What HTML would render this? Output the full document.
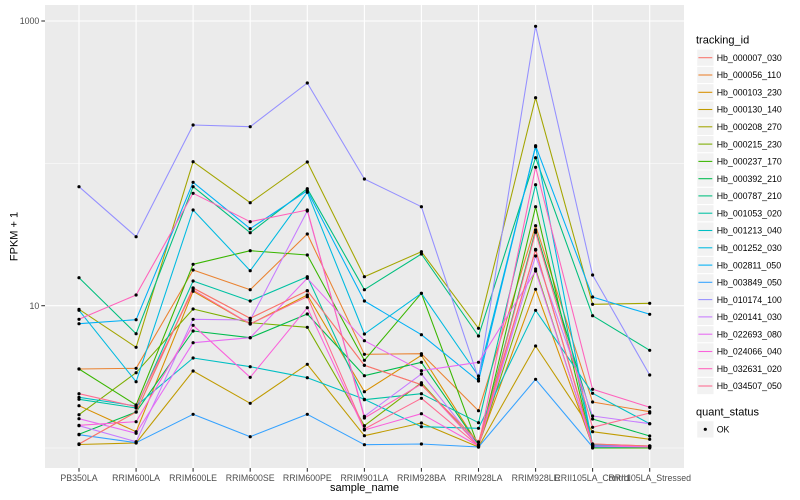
<!DOCTYPE html>
<html><head><meta charset="utf-8"><style>
html,body{margin:0;padding:0;background:#fff;}
svg{display:block;font-family:"Liberation Sans",Arial,sans-serif;}
</style></head><body>
<svg width="800" height="500" viewBox="0 0 800 500" xmlns="http://www.w3.org/2000/svg">
<defs>
<marker id="pt" viewBox="-2 -2 4 4" markerWidth="4" markerHeight="4" markerUnits="userSpaceOnUse" refX="0" refY="0"><circle cx="0" cy="0" r="1.6" fill="#000"/></marker>
</defs>
<rect x="0" y="0" width="800" height="500" fill="#fff"/>
<rect x="45" y="5" width="639" height="463" fill="#EBEBEB"/>
<!-- minor grid -->
<g stroke="#fff" stroke-width="0.55">
<line x1="45" x2="684" y1="163.4" y2="163.4"/>
<line x1="45" x2="684" y1="448" y2="448"/>
</g>
<!-- major grid -->
<g stroke="#fff" stroke-width="1.07">
<line x1="45" x2="684" y1="21" y2="21"/>
<line x1="45" x2="684" y1="305.7" y2="305.7"/>
<line x1="79" x2="79" y1="5" y2="468"/>
<line x1="136.1" x2="136.1" y1="5" y2="468"/>
<line x1="193.1" x2="193.1" y1="5" y2="468"/>
<line x1="250.2" x2="250.2" y1="5" y2="468"/>
<line x1="307.3" x2="307.3" y1="5" y2="468"/>
<line x1="364.4" x2="364.4" y1="5" y2="468"/>
<line x1="421.4" x2="421.4" y1="5" y2="468"/>
<line x1="478.5" x2="478.5" y1="5" y2="468"/>
<line x1="535.6" x2="535.6" y1="5" y2="468"/>
<line x1="592.6" x2="592.6" y1="5" y2="468"/>
<line x1="649.7" x2="649.7" y1="5" y2="468"/>
</g>
<!-- series -->
<g fill="none" stroke-width="1.07" stroke-linejoin="round">
<polyline id="s0" stroke="#F8766D" points="79,444 136.1,412 193.1,288 250.2,318.3 307.3,290.7 364.4,365.3 421.4,384.7 478.5,442 535.6,250 592.6,444 649.7,446"/>
<polyline id="s1" stroke="#EA8331" points="79,369 136.1,368.3 193.1,270 250.2,289.7 307.3,234 364.4,354.3 421.4,353.7 478.5,410.7 535.6,225.7 592.6,402 649.7,411.7"/>
<polyline id="s2" stroke="#D89000" points="79,405.7 136.1,431.7 193.1,291.3 250.2,324 307.3,295 364.4,391.7 421.4,355.3 478.5,445 535.6,289.3 592.6,446 649.7,447"/>
<polyline id="s3" stroke="#C09B00" points="79,444.5 136.1,443 193.1,371 250.2,403.3 307.3,364.3 364.4,435.7 421.4,423 478.5,447 535.6,346 592.6,431.7 649.7,439.3"/>
<polyline id="s4" stroke="#A3A500" points="79,309.3 136.1,347.3 193.1,161.7 250.2,202.7 307.3,162 364.4,276.7 421.4,251.7 478.5,328.3 535.6,97.7 592.6,304.3 649.7,303.3"/>
<polyline id="s5" stroke="#7CAE00" points="79,414.7 136.1,372.7 193.1,309 250.2,322.7 307.3,327.3 364.4,425.7 421.4,382.7 478.5,446 535.6,269 592.6,447 649.7,446"/>
<polyline id="s6" stroke="#39B600" points="79,369 136.1,405 193.1,264.3 250.2,250.7 307.3,255 364.4,360.3 421.4,293.3 478.5,447 535.6,206.7 592.6,448 649.7,448"/>
<polyline id="s7" stroke="#00BB4E" points="79,434.3 136.1,412 193.1,331 250.2,337.7 307.3,314 364.4,375.7 421.4,362.3 478.5,445 535.6,230 592.6,419 649.7,436"/>
<polyline id="s8" stroke="#00BF7D" points="79,277.7 136.1,333.7 193.1,186.7 250.2,232.7 307.3,188.7 364.4,289.7 421.4,254 478.5,336 535.6,157.7 592.6,315.7 649.7,350.3"/>
<polyline id="s9" stroke="#00C1A3" points="79,399.3 136.1,408 193.1,281 250.2,301 307.3,276.7 364.4,399.7 421.4,393.7 478.5,422.7 535.6,184.7 592.6,445 649.7,447"/>
<polyline id="s10" stroke="#00BFC4" points="79,397.3 136.1,406 193.1,358 250.2,366.7 307.3,377.7 364.4,399.3 421.4,426.7 478.5,428.3 535.6,310.3 592.6,393.3 649.7,423.7"/>
<polyline id="s11" stroke="#00BAE0" points="79,310.3 136.1,381.7 193.1,210 250.2,270.7 307.3,192.3 364.4,334 421.4,293.3 478.5,376 535.6,146.7 592.6,445 649.7,446"/>
<polyline id="s12" stroke="#00B0F6" points="79,323.7 136.1,319.7 193.1,182.3 250.2,228.7 307.3,190.7 364.4,301 421.4,334.7 478.5,381 535.6,145.7 592.6,297 649.7,314.3"/>
<polyline id="s13" stroke="#35A2FF" points="79,434.7 136.1,442.7 193.1,414.3 250.2,436.7 307.3,414.3 364.4,444.7 421.4,444 478.5,447 535.6,379.3 592.6,447 649.7,447"/>
<polyline id="s14" stroke="#9590FF" points="79,186.7 136.1,236.7 193.1,125 250.2,126.7 307.3,83 364.4,179 421.4,206.7 478.5,378.7 535.6,26.3 592.6,275 649.7,375"/>
<polyline id="s15" stroke="#C77CFF" points="79,425.7 136.1,441.7 193.1,319.3 250.2,320 307.3,211 364.4,416.3 421.4,374 478.5,446 535.6,256 592.6,416 649.7,423.7"/>
<polyline id="s16" stroke="#E76BF3" points="79,418.7 136.1,433.3 193.1,342.7 250.2,337.7 307.3,278.3 364.4,340.7 421.4,370.7 478.5,362.3 535.6,271 592.6,446 649.7,447"/>
<polyline id="s17" stroke="#FA62DB" points="79,425.3 136.1,421.7 193.1,325.3 250.2,377.3 307.3,307.7 364.4,430 421.4,413.7 478.5,446 535.6,249.3 592.6,446 649.7,446"/>
<polyline id="s18" stroke="#FF62BC" points="79,319.3 136.1,295 193.1,193.3 250.2,221.7 307.3,210 364.4,418 421.4,384 478.5,446 535.6,167.3 592.6,389.3 649.7,407.3"/>
<polyline id="s19" stroke="#FF6C91" points="79,393.7 136.1,406.7 193.1,290 250.2,324 307.3,296.7 364.4,429 421.4,398.3 478.5,446 535.6,232.3 592.6,427.3 649.7,413"/>
</g>
<!-- points -->
<g fill="none" stroke="none" marker-start="url(#pt)" marker-mid="url(#pt)" marker-end="url(#pt)">
<use href="#s0" stroke="none" style="stroke:none"/>
</g>
<g style="stroke:none" fill="none">
<polyline marker-start="url(#pt)" marker-mid="url(#pt)" marker-end="url(#pt)" points="79,444 136.1,412 193.1,288 250.2,318.3 307.3,290.7 364.4,365.3 421.4,384.7 478.5,442 535.6,250 592.6,444 649.7,446"/>
<polyline marker-start="url(#pt)" marker-mid="url(#pt)" marker-end="url(#pt)" points="79,369 136.1,368.3 193.1,270 250.2,289.7 307.3,234 364.4,354.3 421.4,353.7 478.5,410.7 535.6,225.7 592.6,402 649.7,411.7"/>
<polyline marker-start="url(#pt)" marker-mid="url(#pt)" marker-end="url(#pt)" points="79,405.7 136.1,431.7 193.1,291.3 250.2,324 307.3,295 364.4,391.7 421.4,355.3 478.5,445 535.6,289.3 592.6,446 649.7,447"/>
<polyline marker-start="url(#pt)" marker-mid="url(#pt)" marker-end="url(#pt)" points="79,444.5 136.1,443 193.1,371 250.2,403.3 307.3,364.3 364.4,435.7 421.4,423 478.5,447 535.6,346 592.6,431.7 649.7,439.3"/>
<polyline marker-start="url(#pt)" marker-mid="url(#pt)" marker-end="url(#pt)" points="79,309.3 136.1,347.3 193.1,161.7 250.2,202.7 307.3,162 364.4,276.7 421.4,251.7 478.5,328.3 535.6,97.7 592.6,304.3 649.7,303.3"/>
<polyline marker-start="url(#pt)" marker-mid="url(#pt)" marker-end="url(#pt)" points="79,414.7 136.1,372.7 193.1,309 250.2,322.7 307.3,327.3 364.4,425.7 421.4,382.7 478.5,446 535.6,269 592.6,447 649.7,446"/>
<polyline marker-start="url(#pt)" marker-mid="url(#pt)" marker-end="url(#pt)" points="79,369 136.1,405 193.1,264.3 250.2,250.7 307.3,255 364.4,360.3 421.4,293.3 478.5,447 535.6,206.7 592.6,448 649.7,448"/>
<polyline marker-start="url(#pt)" marker-mid="url(#pt)" marker-end="url(#pt)" points="79,434.3 136.1,412 193.1,331 250.2,337.7 307.3,314 364.4,375.7 421.4,362.3 478.5,445 535.6,230 592.6,419 649.7,436"/>
<polyline marker-start="url(#pt)" marker-mid="url(#pt)" marker-end="url(#pt)" points="79,277.7 136.1,333.7 193.1,186.7 250.2,232.7 307.3,188.7 364.4,289.7 421.4,254 478.5,336 535.6,157.7 592.6,315.7 649.7,350.3"/>
<polyline marker-start="url(#pt)" marker-mid="url(#pt)" marker-end="url(#pt)" points="79,399.3 136.1,408 193.1,281 250.2,301 307.3,276.7 364.4,399.7 421.4,393.7 478.5,422.7 535.6,184.7 592.6,445 649.7,447"/>
<polyline marker-start="url(#pt)" marker-mid="url(#pt)" marker-end="url(#pt)" points="79,397.3 136.1,406 193.1,358 250.2,366.7 307.3,377.7 364.4,399.3 421.4,426.7 478.5,428.3 535.6,310.3 592.6,393.3 649.7,423.7"/>
<polyline marker-start="url(#pt)" marker-mid="url(#pt)" marker-end="url(#pt)" points="79,310.3 136.1,381.7 193.1,210 250.2,270.7 307.3,192.3 364.4,334 421.4,293.3 478.5,376 535.6,146.7 592.6,445 649.7,446"/>
<polyline marker-start="url(#pt)" marker-mid="url(#pt)" marker-end="url(#pt)" points="79,323.7 136.1,319.7 193.1,182.3 250.2,228.7 307.3,190.7 364.4,301 421.4,334.7 478.5,381 535.6,145.7 592.6,297 649.7,314.3"/>
<polyline marker-start="url(#pt)" marker-mid="url(#pt)" marker-end="url(#pt)" points="79,434.7 136.1,442.7 193.1,414.3 250.2,436.7 307.3,414.3 364.4,444.7 421.4,444 478.5,447 535.6,379.3 592.6,447 649.7,447"/>
<polyline marker-start="url(#pt)" marker-mid="url(#pt)" marker-end="url(#pt)" points="79,186.7 136.1,236.7 193.1,125 250.2,126.7 307.3,83 364.4,179 421.4,206.7 478.5,378.7 535.6,26.3 592.6,275 649.7,375"/>
<polyline marker-start="url(#pt)" marker-mid="url(#pt)" marker-end="url(#pt)" points="79,425.7 136.1,441.7 193.1,319.3 250.2,320 307.3,211 364.4,416.3 421.4,374 478.5,446 535.6,256 592.6,416 649.7,423.7"/>
<polyline marker-start="url(#pt)" marker-mid="url(#pt)" marker-end="url(#pt)" points="79,418.7 136.1,433.3 193.1,342.7 250.2,337.7 307.3,278.3 364.4,340.7 421.4,370.7 478.5,362.3 535.6,271 592.6,446 649.7,447"/>
<polyline marker-start="url(#pt)" marker-mid="url(#pt)" marker-end="url(#pt)" points="79,425.3 136.1,421.7 193.1,325.3 250.2,377.3 307.3,307.7 364.4,430 421.4,413.7 478.5,446 535.6,249.3 592.6,446 649.7,446"/>
<polyline marker-start="url(#pt)" marker-mid="url(#pt)" marker-end="url(#pt)" points="79,319.3 136.1,295 193.1,193.3 250.2,221.7 307.3,210 364.4,418 421.4,384 478.5,446 535.6,167.3 592.6,389.3 649.7,407.3"/>
<polyline marker-start="url(#pt)" marker-mid="url(#pt)" marker-end="url(#pt)" points="79,393.7 136.1,406.7 193.1,290 250.2,324 307.3,296.7 364.4,429 421.4,398.3 478.5,446 535.6,232.3 592.6,427.3 649.7,413"/>
</g>
<!-- axes ticks -->
<g stroke="#333" stroke-width="1.07">
<line x1="41.3" x2="45" y1="21" y2="21"/>
<line x1="41.3" x2="45" y1="305.7" y2="305.7"/>
<line x1="79" x2="79" y1="468" y2="471.7"/>
<line x1="136.1" x2="136.1" y1="468" y2="471.7"/>
<line x1="193.1" x2="193.1" y1="468" y2="471.7"/>
<line x1="250.2" x2="250.2" y1="468" y2="471.7"/>
<line x1="307.3" x2="307.3" y1="468" y2="471.7"/>
<line x1="364.4" x2="364.4" y1="468" y2="471.7"/>
<line x1="421.4" x2="421.4" y1="468" y2="471.7"/>
<line x1="478.5" x2="478.5" y1="468" y2="471.7"/>
<line x1="535.6" x2="535.6" y1="468" y2="471.7"/>
<line x1="592.6" x2="592.6" y1="468" y2="471.7"/>
<line x1="649.7" x2="649.7" y1="468" y2="471.7"/>
</g>
<g fill="#4D4D4D" font-size="8.8">
<text x="39.3" y="24.2" text-anchor="end">1000</text>
<text x="39.3" y="308.9" text-anchor="end">10</text>
</g>
<g fill="#4D4D4D" font-size="8.8" text-anchor="middle">
<text x="79" y="481">PB350LA</text>
<text x="136.1" y="481">RRIM600LA</text>
<text x="193.1" y="481">RRIM600LE</text>
<text x="250.2" y="481">RRIM600SE</text>
<text x="307.3" y="481">RRIM600PE</text>
<text x="364.4" y="481">RRIM901LA</text>
<text x="421.4" y="481">RRIM928BA</text>
<text x="478.5" y="481">RRIM928LA</text>
<text x="535.6" y="481">RRIM928LE</text>
<text x="592.6" y="481">RRII105LA_Control</text>
<text x="649.7" y="481">RRII105LA_Stressed</text>
</g>
<text x="364.5" y="491" font-size="11" text-anchor="middle" fill="#000">sample_name</text>
<text transform="translate(17.5,236.5) rotate(-90)" font-size="11" text-anchor="middle" fill="#000">FPKM + 1</text>
<!-- legend -->
<text x="696" y="43.5" font-size="11" fill="#000">tracking_id</text>
<g stroke="#fff" stroke-width="1.07" fill="#F2F2F2">
<rect x="696.7" y="49.1" width="17.3" height="17.3"/>
<rect x="696.7" y="66.4" width="17.3" height="17.3"/>
<rect x="696.7" y="83.6" width="17.3" height="17.3"/>
<rect x="696.7" y="100.9" width="17.3" height="17.3"/>
<rect x="696.7" y="118.2" width="17.3" height="17.3"/>
<rect x="696.7" y="135.5" width="17.3" height="17.3"/>
<rect x="696.7" y="152.8" width="17.3" height="17.3"/>
<rect x="696.7" y="170.0" width="17.3" height="17.3"/>
<rect x="696.7" y="187.3" width="17.3" height="17.3"/>
<rect x="696.7" y="204.6" width="17.3" height="17.3"/>
<rect x="696.7" y="221.9" width="17.3" height="17.3"/>
<rect x="696.7" y="239.2" width="17.3" height="17.3"/>
<rect x="696.7" y="256.4" width="17.3" height="17.3"/>
<rect x="696.7" y="273.7" width="17.3" height="17.3"/>
<rect x="696.7" y="291.0" width="17.3" height="17.3"/>
<rect x="696.7" y="308.3" width="17.3" height="17.3"/>
<rect x="696.7" y="325.6" width="17.3" height="17.3"/>
<rect x="696.7" y="342.8" width="17.3" height="17.3"/>
<rect x="696.7" y="360.1" width="17.3" height="17.3"/>
<rect x="696.7" y="377.4" width="17.3" height="17.3"/>
<rect x="696.7" y="420.7" width="17.3" height="17.3"/>
</g>
<g stroke-width="1.07">
<line x1="698.4" x2="712.3" y1="57.7" y2="57.7" stroke="#F8766D"/>
<line x1="698.4" x2="712.3" y1="75.0" y2="75.0" stroke="#EA8331"/>
<line x1="698.4" x2="712.3" y1="92.3" y2="92.3" stroke="#D89000"/>
<line x1="698.4" x2="712.3" y1="109.5" y2="109.5" stroke="#C09B00"/>
<line x1="698.4" x2="712.3" y1="126.8" y2="126.8" stroke="#A3A500"/>
<line x1="698.4" x2="712.3" y1="144.1" y2="144.1" stroke="#7CAE00"/>
<line x1="698.4" x2="712.3" y1="161.4" y2="161.4" stroke="#39B600"/>
<line x1="698.4" x2="712.3" y1="178.7" y2="178.7" stroke="#00BB4E"/>
<line x1="698.4" x2="712.3" y1="195.9" y2="195.9" stroke="#00BF7D"/>
<line x1="698.4" x2="712.3" y1="213.2" y2="213.2" stroke="#00C1A3"/>
<line x1="698.4" x2="712.3" y1="230.5" y2="230.5" stroke="#00BFC4"/>
<line x1="698.4" x2="712.3" y1="247.8" y2="247.8" stroke="#00BAE0"/>
<line x1="698.4" x2="712.3" y1="265.1" y2="265.1" stroke="#00B0F6"/>
<line x1="698.4" x2="712.3" y1="282.3" y2="282.3" stroke="#35A2FF"/>
<line x1="698.4" x2="712.3" y1="299.6" y2="299.6" stroke="#9590FF"/>
<line x1="698.4" x2="712.3" y1="316.9" y2="316.9" stroke="#C77CFF"/>
<line x1="698.4" x2="712.3" y1="334.2" y2="334.2" stroke="#E76BF3"/>
<line x1="698.4" x2="712.3" y1="351.5" y2="351.5" stroke="#FA62DB"/>
<line x1="698.4" x2="712.3" y1="368.7" y2="368.7" stroke="#FF62BC"/>
<line x1="698.4" x2="712.3" y1="386.0" y2="386.0" stroke="#FF6C91"/>
</g>
<g font-size="8.8" fill="#000">
<text x="716.7" y="60.9">Hb_000007_030</text>
<text x="716.7" y="78.2">Hb_000056_110</text>
<text x="716.7" y="95.5">Hb_000103_230</text>
<text x="716.7" y="112.7">Hb_000130_140</text>
<text x="716.7" y="130.0">Hb_000208_270</text>
<text x="716.7" y="147.3">Hb_000215_230</text>
<text x="716.7" y="164.6">Hb_000237_170</text>
<text x="716.7" y="181.9">Hb_000392_210</text>
<text x="716.7" y="199.1">Hb_000787_210</text>
<text x="716.7" y="216.4">Hb_001053_020</text>
<text x="716.7" y="233.7">Hb_001213_040</text>
<text x="716.7" y="251.0">Hb_001252_030</text>
<text x="716.7" y="268.3">Hb_002811_050</text>
<text x="716.7" y="285.5">Hb_003849_050</text>
<text x="716.7" y="302.8">Hb_010174_100</text>
<text x="716.7" y="320.1">Hb_020141_030</text>
<text x="716.7" y="337.4">Hb_022693_080</text>
<text x="716.7" y="354.7">Hb_024066_040</text>
<text x="716.7" y="371.9">Hb_032631_020</text>
<text x="716.7" y="389.2">Hb_034507_050</text>
</g>
<text x="696" y="415.5" font-size="11" fill="#000">quant_status</text>
<circle cx="705.3" cy="429.3" r="1.6" fill="#000"/>
<text x="716.7" y="432.5" font-size="8.8" fill="#000">OK</text>
</svg>
</body></html>
